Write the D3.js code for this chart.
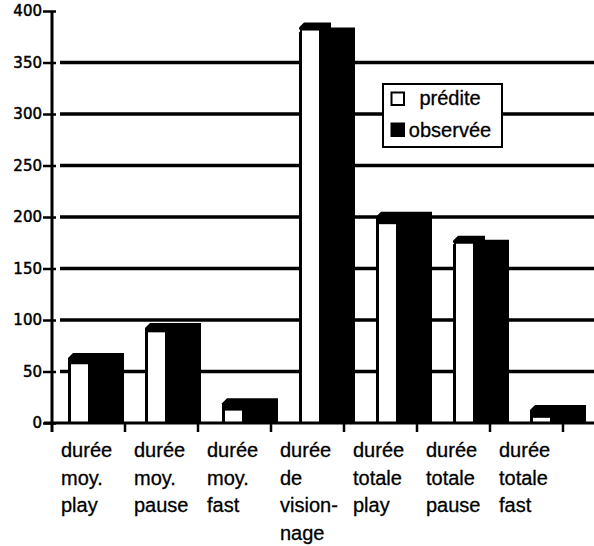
<!DOCTYPE html>
<html>
<head>
<meta charset="utf-8">
<script src="https://cdn.jsdelivr.net/npm/d3@7"></script>
<style>
  html, body { margin: 0; padding: 0; background: #fff; }
  svg { display: block; }
</style>
</head>
<body>
<div id="chart"></div>
<script>
// Data
const categories = ["moyPlay", "moyPause", "moyFast", "visionnage", "totPlay", "totPause", "totFast"];
const labelLines = [
  ["durée", "moy.", "play"],
  ["durée", "moy.", "pause"],
  ["durée", "moy.", "fast"],
  ["durée", "de", "vision-", "nage"],
  ["durée", "totale", "play"],
  ["durée", "totale", "pause"],
  ["durée", "totale", "fast"]
];
const predite = [58, 89, 13, 382, 194, 175, 6];
const observee = [68, 97, 24, 384, 205, 178, 17.5];
const yTicks = [0, 50, 100, 150, 200, 250, 300, 350, 400];
const gridValues = [50, 100, 150, 200, 250, 300, 350];
const legendLabels = ["prédite", "observée"];
const legendFills = ["#fff", "#000"];

const width = 594, height = 546;
const axisX = 52, baseY = 423;

const svg = d3.select("#chart").append("svg")
  .attr("width", width)
  .attr("height", height);

// Scales
const y = d3.scaleLinear().domain([0, 400]).range([baseY, 11]);
const xBars = d3.scaleBand().domain(categories).range([62, 601]).padding(0);
const xAxisBand = d3.scaleBand().domain(categories).range([axisX, 563]).padding(0);

// Gridlines (drawn first, bars cover them)
svg.append("g").selectAll("line")
  .data(gridValues)
  .join("line")
  .attr("x1", 60).attr("x2", width)
  .attr("y1", d => y(d)).attr("y2", d => y(d))
  .attr("stroke", "#000")
  .attr("stroke-width", 3.5);

// Bars: pseudo-3D look, black observed block behind the white predicted one
const bevel = 5, depth = 7;
const bars = svg.append("g").selectAll("g")
  .data(categories.map((c, i) => ({ c, pred: predite[i], obs: observee[i] })))
  .join("g");

bars.append("path")
  .attr("fill", "#000")
  .attr("d", d => {
    const x0 = xBars(d.c) + 6, x1 = xBars(d.c) + 62, t = y(d.obs);
    return `M${x0},${baseY} L${x0},${t + bevel} L${x0 + bevel},${t} L${x1},${t} L${x1},${baseY} Z`;
  });

bars.append("path")
  .attr("fill", "#000")
  .attr("d", d => {
    const x0 = xBars(d.c) + 6, x1 = xBars(d.c) + 38, f = y(d.pred), t = f - depth;
    return `M${x0},${f} L${x0},${t + bevel} L${x0 + bevel},${t} L${x1},${t} L${x1},${f} Z`;
  });

bars.append("rect")
  .attr("x", d => xBars(d.c) + 8)
  .attr("y", d => y(d.pred))
  .attr("width", 19)
  .attr("height", d => baseY - y(d.pred))
  .attr("fill", "#fff")
  .attr("stroke", "#000")
  .attr("stroke-width", 2);

// Y axis
const yAxis = svg.append("g")
  .attr("transform", `translate(${axisX},0)`)
  .call(d3.axisLeft(y).tickValues(yTicks).tickSize(9).tickPadding(1).tickSizeOuter(0));
yAxis.select(".domain").remove();
yAxis.selectAll(".tick line")
  .attr("x2", -9).attr("x1", 4)
  .attr("stroke", "#000").attr("stroke-width", 2.5);
yAxis.selectAll(".tick text")
  .attr("fill", "#000")
  .attr("stroke", "#000")
  .attr("stroke-width", 0.5)
  .style("font-family", "'DejaVu Sans', sans-serif")
  .style("font-size", "15px");

svg.append("line")
  .attr("x1", axisX).attr("x2", axisX)
  .attr("y1", y(400)).attr("y2", baseY + 9)
  .attr("stroke", "#000").attr("stroke-width", 3);

// X axis
svg.append("line")
  .attr("x1", axisX - 8).attr("x2", width)
  .attr("y1", baseY).attr("y2", baseY)
  .attr("stroke", "#000").attr("stroke-width", 3);

const boundaries = categories.map(c => xAxisBand(c)).concat([xAxisBand.range()[1]]);
svg.append("g").selectAll("line")
  .data(boundaries.slice(1))
  .join("line")
  .attr("x1", d => d).attr("x2", d => d)
  .attr("y1", baseY).attr("y2", baseY + 9)
  .attr("stroke", "#000").attr("stroke-width", 2.5);

// Category labels
const labels = svg.append("g")
  .style("font-family", "'Liberation Sans', Arial, sans-serif")
  .style("font-size", "20px")
  .attr("fill", "#000")
  .attr("stroke", "#000")
  .attr("stroke-width", 0.3);

categories.forEach((c, i) => {
  const t = labels.append("text")
    .attr("x", xAxisBand(c) + 9)
    .attr("y", 457);
  labelLines[i].forEach((line, j) => {
    t.append("tspan")
      .attr("x", xAxisBand(c) + 9)
      .attr("y", 457 + j * 27.7)
      .text(line);
  });
});

// Legend
const legend = svg.append("g");
legend.append("rect")
  .attr("x", 383).attr("y", 84)
  .attr("width", 119).attr("height", 63)
  .attr("fill", "#fff")
  .attr("stroke", "#000")
  .attr("stroke-width", 2);

legendLabels.forEach((label, i) => {
  legend.append("rect")
    .attr("x", 391.5).attr("y", 92.5 + i * 31)
    .attr("width", 12.5).attr("height", 12.5)
    .attr("fill", legendFills[i])
    .attr("stroke", "#000")
    .attr("stroke-width", 2);
  legend.append("text")
    .attr("x", 450).attr("y", 105 + i * 31.5)
    .attr("text-anchor", "middle")
    .style("font-family", "'Liberation Sans', Arial, sans-serif")
    .style("font-size", "20px")
    .attr("fill", "#000")
    .attr("stroke", "#000")
    .attr("stroke-width", 0.3)
    .text(label);
});
</script>
</body>
</html>
